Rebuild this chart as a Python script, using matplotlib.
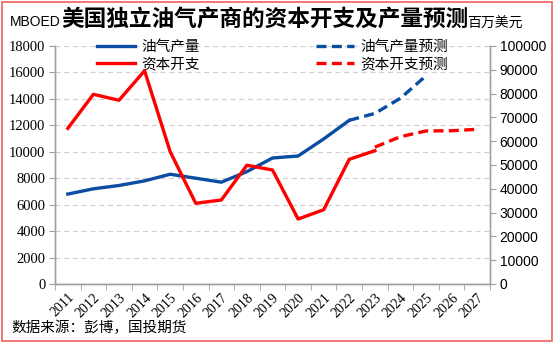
import matplotlib.pyplot as plt
import matplotlib.patches as patches

plt.rcParams['font.family'] = ['Noto Sans CJK SC', 'DejaVu Sans']

years = ['2011', '2012', '2013', '2014', '2015', '2016', '2017', '2018', '2019',
         '2020', '2021', '2022', '2023', '2024', '2025', '2026', '2027']
# oil & gas output, MBOED (left axis)
output = [6800, 7200, 7450, 7800, 8300, 8000, 7700, 8500, 9530, 9680, 10970, 12380]
output_fc = [12380, 12900, 14050, 15750]
# capex, million USD (right axis)
capex = [65400, 79700, 77200, 89600, 55600, 33900, 35300, 49900, 47900, 27300,
         31200, 52400, 56000]
capex_fc = [57500, 61900, 64300, 64400, 65000]

blue = '#0B4DA2'
red = '#FF0000'
dash = (0, (3, 1.6))

fig = plt.figure(figsize=(5.54, 3.42), dpi=100)
ax = fig.add_axes([0.0993, 0.1696, 0.7852, 0.6959])
ax2 = ax.twinx()

x = list(range(len(years)))
l1, = ax.plot(x[:len(output)], output, color=blue, lw=2.4)
l3, = ax.plot(x[len(output) - 1:len(output) - 1 + len(output_fc)], output_fc,
              color=blue, lw=2.4, ls=dash)
l2, = ax2.plot(x[:len(capex)], capex, color=red, lw=2.4)
l4, = ax2.plot(x[len(capex) - 1:], capex_fc, color=red, lw=2.4, ls=dash)

ax.set_xlim(-0.5, len(years) - 0.5)
ax.set_ylim(0, 18000)
ax2.set_ylim(0, 100000)
ax.set_yticks(range(0, 18001, 2000))
ax2.set_yticks(range(0, 100001, 10000))
ax.yaxis.grid(True, color='#D0D0D0', ls=(0, (4, 3)), lw=0.9)
ax.set_axisbelow(True)

ax.set_xticks(x)
ax.set_xticklabels(years, rotation=45, ha='right', va='top', rotation_mode='anchor')
ax.set_xticks([i - 0.5 for i in range(len(years) + 1)], minor=True)
ax.tick_params(axis='x', which='major', length=0, pad=5,
               labelfontfamily='Liberation Serif', labelsize=10)
ax.tick_params(axis='x', which='minor', length=4, color='#A0A0A0')
ax.tick_params(axis='y', length=4, color='#A0A0A0', pad=3,
               labelfontfamily='Liberation Serif', labelsize=10.5)
ax2.tick_params(axis='y', length=4, color='#A0A0A0', pad=3,
                labelfontfamily='Liberation Sans', labelsize=10)

for a in (ax, ax2):
    a.spines['top'].set_visible(False)
    for s in ('left', 'right', 'bottom'):
        a.spines[s].set_color('#A0A0A0')
        a.spines[s].set_linewidth(1.0)

leg = ax.legend([l1, l2, l3, l4], ['油气产量', '资本开支', '油气产量预测', '资本开支预测'],
                ncol=2, loc='upper left', bbox_to_anchor=(0.067, 1.082), frameon=False,
                handlelength=2.6, handletextpad=0.4, columnspacing=8.0,
                labelspacing=0.25, fontsize=10.5)
for t in leg.get_texts():
    t.set_style('italic')

fig.text(0.479, 0.945, '美国独立油气产商的资本开支及产量预测', ha='center', va='center',
         fontsize=16.3, fontweight='bold')
fig.text(0.018, 0.935, 'MBOED', ha='left', va='center', fontsize=10,
         family=['Liberation Sans', 'DejaVu Sans'])
fig.text(0.844, 0.93, '百万美元', ha='left', va='center', fontsize=10)
fig.text(0.02, 0.04, '数据来源：彭博，国投期货', ha='left', va='center', fontsize=10.5)

fig.patches.append(patches.Rectangle((0.003, 0.004), 0.994, 0.99, transform=fig.transFigure,
                                     fill=False, edgecolor='#F06060', lw=1.2))

fig.savefig('out.png', dpi=100)
